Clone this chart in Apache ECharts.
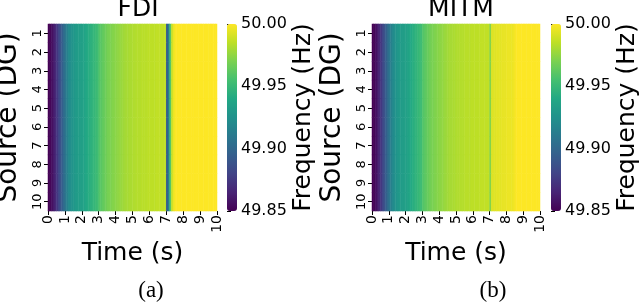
<!DOCTYPE html>
<html><head><meta charset="utf-8">
<script src="https://cdn.jsdelivr.net/npm/echarts@6/dist/echarts.min.js"></script>
<style>html,body{margin:0;padding:0;background:#fff}#c{width:640px;height:305px}</style>
</head><body><div id="c"></div>
<script>
// Time bins of 0.1 s (bin start times), 0.0 ... 9.9
const timeBins = [];
for (let i = 0; i < 100; i++) timeBins.push((i / 10).toFixed(1));
const sources = ['1','2','3','4','5','6','7','8','9','10'];
const timeTicks = [0,1,2,3,4,5,6,7,8,9,10];
const cbarTicks = ['49.85','49.90','49.95','50.00'];
const panelTitles = ['FDI','MITM'];
const captions = ['(a)','(b)'];

// Frequency (Hz) per 0.1 s bin (same for every DG row)
const fdiFreq = [
 49.850,49.852,49.856,49.861,49.867,49.874,49.881,49.888,49.895,49.902,
 49.909,49.915,49.920,49.924,49.927,49.929,49.931,49.932,49.933,49.934,
 49.935,49.937,49.939,49.941,49.943,49.945,49.947,49.949,49.951,49.953,
 49.959,49.961,49.963,49.965,49.967,49.969,49.970,49.971,49.972,49.973,
 49.974,49.975,49.976,49.977,49.978,49.979,49.980,49.980,49.981,49.981,
 49.982,49.982,49.983,49.983,49.983,49.984,49.984,49.984,49.984,49.985,
 49.985,49.985,49.985,49.985,49.986,49.986,49.986,49.986,49.986,49.986,
 49.893,49.915,49.960,49.988,49.996,50.000,50.000,50.000,50.000,50.000,
 50.000,50.000,50.000,50.000,50.000,50.000,50.000,50.000,50.000,50.000,
 50.000,50.000,50.000,50.000,50.000,50.000,50.000,50.000,50.000,50.000
];
const mitmFreq = [
 49.850,49.852,49.856,49.861,49.867,49.874,49.881,49.888,49.895,49.902,
 49.909,49.915,49.920,49.924,49.927,49.929,49.931,49.932,49.933,49.934,
 49.935,49.937,49.939,49.941,49.943,49.945,49.947,49.949,49.951,49.953,
 49.959,49.961,49.963,49.965,49.967,49.969,49.970,49.971,49.972,49.973,
 49.974,49.975,49.976,49.977,49.978,49.979,49.980,49.980,49.981,49.981,
 49.982,49.982,49.983,49.983,49.983,49.984,49.984,49.984,49.984,49.985,
 49.985,49.985,49.985,49.985,49.986,49.986,49.986,49.986,49.986,49.986,
 49.972,49.992,49.993,49.993,49.994,49.994,49.994,49.995,49.995,49.995,
 49.996,49.996,49.996,49.996,49.997,49.999,50.000,50.000,50.000,50.000,
 50.000,50.000,50.000,50.000,50.000,50.000,50.000,50.000,50.000,50.000
];
const freqMin = 49.85, freqMax = 50.00;

const viridis = ['#440154','#482475','#414487','#355f8d','#2a788e','#21918c','#22a884','#44bf70','#7ad151','#bddf26','#fde725'];

function cells(freq) {
  const out = [];
  for (let r = 0; r < sources.length; r++)
    for (let c = 0; c < timeBins.length; c++) out.push([c, r, freq[c]]);
  return out;
}

const F = 'DejaVu Sans';
const panels = [
  {left: 48, width: 169, cbLeft: 227, title: 133, cap: 151},
  {left: 372, width: 168, cbLeft: 551, title: 456, cap: 493}
];
const plotTop = 24, plotH = 187;

const grid = [], xAxis = [], yAxis = [], series = [], visualMap = [], title = [], graphic = [];
panels.forEach((p, i) => {
  const g = grid.length;
  grid.push({left: p.left, top: plotTop, width: p.width, height: plotH, outerBoundsMode: 'none', containLabel: false});
  grid.push({left: p.cbLeft, top: plotTop, width: 10, height: plotH, outerBoundsMode: 'none', containLabel: false});
  const xc = xAxis.length;
  xAxis.push({type: 'category', gridIndex: g, data: timeBins, show: false, position: 'top'});
  xAxis.push({type: 'value', gridIndex: g, position: 'bottom', min: timeTicks[0], max: timeTicks[timeTicks.length-1], interval: 1,
    axisLine: {show: false}, splitLine: {show: false},
    axisTick: {show: true, length: 4, lineStyle: {color: '#000', width: 1}},
    axisLabel: {rotate: 90, fontFamily: F, fontSize: 14, color: '#000', margin: 4},
    name: 'Time (s)', nameLocation: 'middle', nameGap: 16,
    nameTextStyle: {fontFamily: F, fontSize: 25, color: '#000'}});
  xAxis.push({type: 'value', gridIndex: g + 1, show: false, min: 0, max: 1});
  const yc = yAxis.length;
  yAxis.push({type: 'category', gridIndex: g, data: sources, inverse: true,
    axisLine: {show: false}, splitLine: {show: false},
    axisTick: {show: true, alignWithLabel: true, interval: 0, length: 4, lineStyle: {color: '#000'}},
    axisLabel: {rotate: 90, interval: 0, fontFamily: F, fontSize: 13, color: '#000', margin: 4},
    name: 'Source (DG)', nameLocation: 'middle', nameGap: 25,
    nameTextStyle: {fontFamily: F, fontSize: 28, color: '#000'}});
  yAxis.push({type: 'category', gridIndex: g + 1, data: cbarTicks, boundaryGap: false, position: 'right',
    axisLine: {show: false}, splitLine: {show: false},
    axisTick: {show: true, interval: 0, length: 4, lineStyle: {color: '#000'}},
    axisLabel: {interval: 0, fontFamily: F, fontSize: 16, color: '#000', margin: 4},
    name: 'Frequency (Hz)', nameLocation: 'middle', nameRotate: 90, nameGap: 46,
    nameTextStyle: {fontFamily: F, fontSize: 25, color: '#000'}});
  series.push({type: 'heatmap', xAxisIndex: xc, yAxisIndex: yc,
    data: cells(i === 0 ? fdiFreq : mitmFreq), itemStyle: {borderWidth: 0}, emphasis: {disabled: true}, progressive: 0});
  visualMap.push({type: 'continuous', min: freqMin, max: freqMax, seriesIndex: i, calculable: false,
    left: p.cbLeft, top: plotTop, itemWidth: 10, itemHeight: plotH, padding: 0, text: null, hoverLink: false,
    inRange: {color: viridis}, textStyle: {color: 'rgba(0,0,0,0)'}});
  title.push({text: panelTitles[i], left: p.title, top: -8, textAlign: 'center',
    textStyle: {fontFamily: F, fontSize: 25, fontWeight: 'normal', color: '#000'}});
  graphic.push({type: 'text', x: p.cap, y: 291,
    style: {text: captions[i], font: '23px "Liberation Serif"', fill: '#000', align: 'center', verticalAlign: 'middle'}});
});

const chart = echarts.init(document.getElementById('c'), null, {renderer: 'canvas'});
chart.setOption({animation: false, grid, xAxis, yAxis, series, visualMap, title, graphic});
</script></body></html>
